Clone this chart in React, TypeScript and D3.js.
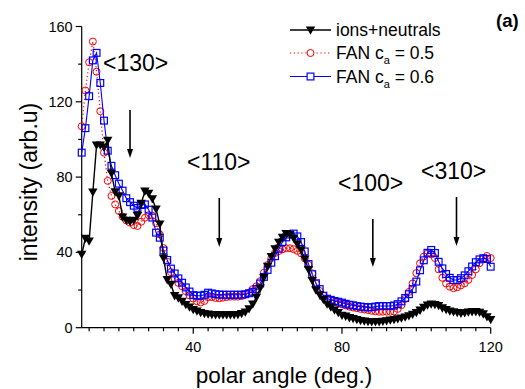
import React from "react";
import * as d3 from "d3";

// Polar angle sampling grid (deg.)
const angles = [
  10, 11, 12, 13, 14, 15, 16, 17, 18, 19, 20, 21, 22, 23, 24, 25, 26, 27, 28, 29,
  30, 31, 32, 33, 34, 35, 36, 37, 38, 39, 40, 41, 42, 43, 44, 45, 46, 47, 48, 49,
  50, 51, 52, 53, 54, 55, 56, 57, 58, 59, 60, 61, 62, 63, 64, 65, 66, 67, 68, 69,
  70, 71, 72, 73, 74, 75, 76, 77, 78, 79, 80, 81, 82, 83, 84, 85, 86, 87, 88, 89,
  90, 91, 92, 93, 94, 95, 96, 97, 98, 99, 100, 101, 102, 103, 104, 105, 106, 107, 108, 109,
  110, 111, 112, 113, 114, 115, 116, 117, 118, 119, 120,
];

// Measured: ions + neutrals
const ionsNeutrals = [
  39, 47.5, 46, 72, 97, 97, 96, 99.5, 82, 72.2, 70, 58.8, 57, 56.4, 57, 59.5, 66, 72.5, 71.4, 68.5,
  63, 55, 37, 25.5, 23, 17, 15.8, 14, 12.3, 11, 9.6, 8.8, 8, 7.5, 7.2, 7, 6.9, 6.8, 6.8, 6.8,
  6.8, 6.9, 7, 7.5, 8.3, 10, 12.6, 16.2, 21, 26.6, 32.6, 37.8, 41.9, 45.4, 48, 50, 49.5, 47.5, 44.4, 41.3,
  36.5, 30.9, 25, 20, 17.5, 15, 12.5, 11, 9.4, 8, 6.6, 6.1, 5.3, 4.8, 4.3, 3.8, 3.5, 3.3, 3.2, 3.2,
  3.2, 3.4, 3.7, 4, 4.3, 4.7, 5.1, 5.6, 6.3, 7.1, 8, 9.3, 10.8, 12, 12.5, 12.3, 11.8, 10.5, 9.6, 8.8,
  8.4, 8, 7.7, 7.9, 8.3, 8.5, 8.5, 8.2, 7.3, 5.8, 4.3,
];

// FAN simulation, c_a = 0.5
const fan05 = [
  107, 126, 141, 152, 136, 115, 93, 78, 70, 65.5, 62, 59, 57, 55.8, 54.5, 54, 56.3, 58.4, 59.8, 59.5,
  55.5, 49.5, 42.3, 35, 29.5, 26, 23.8, 22, 19.4, 17.2, 15.5, 14, 13.4, 14.2, 16.2, 16.3, 15.8, 15.6, 16, 16.3,
  16.5, 16.5, 16.5, 16.8, 17.5, 18.5, 20.5, 22, 24.7, 29.2, 33.3, 37, 39.7, 40.7, 41.6, 42.2, 42.2, 41.7, 40.8, 39.5,
  36.8, 33.4, 28.9, 23.4, 19.5, 17, 15.4, 14.5, 13.6, 13, 12.4, 11.8, 11.2, 10.7, 10.4, 10, 9.7, 9.4, 9, 8.7,
  8.5, 8.5, 8.5, 8.5, 8.6, 10, 12, 15.3, 19, 23.5, 29, 34.2, 37.8, 39.3, 39, 37, 31, 26.5, 23.5, 21.8,
  21, 21.5, 22.5, 23.6, 25.4, 28, 31, 34.3, 36.9, 38.1, 37,
];

// FAN simulation, c_a = 0.6
const fan06 = [
  93, 106, 123, 142, 146, 130, 110, 94, 86, 81, 76.5, 72.8, 68.8, 66.7, 64.8, 63.6, 65.2, 65.5, 62.7, 58.5,
  50.5, 47.8, 41, 36, 31.4, 28.8, 26.2, 23.9, 21.4, 19.2, 17.3, 17, 17, 17.5, 18.6, 18.2, 17.8, 17.6, 17.5, 17.5,
  17.5, 17.5, 17.5, 17.5, 17.8, 18.3, 19.1, 20.5, 23.5, 27, 30.7, 34.5, 38, 42, 45.5, 48, 49.5, 50, 48.5, 45.5,
  40.5, 33.8, 28.4, 23.6, 20.5, 17, 15.4, 14.8, 14.2, 13.8, 13.3, 12.7, 12.2, 11.9, 11.5, 11.2, 11, 10.8, 10.9, 11.2,
  11.5, 11.5, 11.5, 11.5, 11.8, 12.5, 14, 15.8, 17.8, 20.5, 24.5, 30.5, 35.8, 39.8, 41.3, 39.7, 35, 31.5, 28.5, 26.5,
  25.3, 25.3, 26.3, 27.8, 30, 32.5, 34.8, 36.3, 36.9, 36.5, 32.4,
];

const xMajorTicks = [40, 80, 120];
const yMajorTicks = [0, 40, 80, 120, 160];
const yMinorTicks = [20, 60, 100, 140];

// Crystallographic direction labels and their arrow positions
const directions = [
  { label: "<130>", tx: 103, ty: 71, arrowX: 23, arrowTop: 110, arrowBottom: 158 },
  { label: "<110>", tx: 187, ty: 170, arrowX: 47, arrowTop: 198, arrowBottom: 247 },
  { label: "<100>", tx: 338, ty: 191, arrowX: 88.3, arrowTop: 219, arrowBottom: 267 },
  { label: "<310>", tx: 421, ty: 179, arrowX: 110.8, arrowTop: 197, arrowBottom: 246 },
];

const FONT = "'Liberation Sans', Arial, Helvetica, sans-serif";

export default function App() {
  const width = 525;
  const height = 389;
  const x = d3.scaleLinear().domain([10, 120]).range([81.7, 490.7]);
  const y = d3.scaleLinear().domain([0, 160]).range([327.7, 26.5]);

  const xMinorTicks = d3.range(12, 120, 4).filter((v) => !xMajorTicks.includes(v));

  const line = d3
    .line<number>()
    .x((_, i) => x(angles[i]))
    .y((d) => y(d));

  const triPath = (cx: number, cy: number) =>
    `M${cx - 4.7},${cy - 3.6}L${cx + 4.7},${cy - 3.6}L${cx},${cy + 4.7}Z`;

  return (
    <svg
      width={width}
      height={height}
      style={{ position: "absolute", left: 0, top: 0, background: "#fff" }}
      fontFamily={FONT}
    >
      <rect width={width} height={height} fill="#fff" />

      {/* axes */}
      <g stroke="#000" strokeWidth={1.2}>
        <line x1={x(10)} x2={x(10)} y1={y(160)} y2={y(0)} />
        <line x1={x(10)} x2={x(120)} y1={y(0)} y2={y(0)} />
        {xMajorTicks.map((t) => (
          <line key={"xM" + t} x1={x(t)} x2={x(t)} y1={y(0)} y2={y(0) + 6} />
        ))}
        {xMinorTicks.map((t) => (
          <line key={"xm" + t} x1={x(t)} x2={x(t)} y1={y(0)} y2={y(0) + 3.5} />
        ))}
        {yMajorTicks.map((t) => (
          <line key={"yM" + t} x1={x(10) - 6} x2={x(10)} y1={y(t)} y2={y(t)} />
        ))}
        {yMinorTicks.map((t) => (
          <line key={"ym" + t} x1={x(10) - 3.5} x2={x(10)} y1={y(t)} y2={y(t)} />
        ))}
      </g>
      <g fontSize={14.5} fill="#000">
        {xMajorTicks.map((t) => (
          <text key={"xl" + t} x={x(t)} y={352} textAnchor="middle">
            {t}
          </text>
        ))}
        {yMajorTicks.map((t) => (
          <text key={"yl" + t} x={x(10) - 9} y={y(t) + 5} textAnchor="end">
            {t}
          </text>
        ))}
      </g>
      <text x={284} y={383} fontSize={22.5} textAnchor="middle">
        polar angle (deg.)
      </text>
      <text
        transform={`translate(37,182) rotate(-90)`}
        fontSize={23}
        textAnchor="middle"
      >
        intensity (arb.u)
      </text>

      {/* FAN c_a = 0.5 */}
      <path
        d={line(fan05) ?? ""}
        fill="none"
        stroke="#ff0000"
        strokeWidth={1.2}
        strokeDasharray="1.2 2.6"
      />
      {fan05.map((v, i) => (
        <circle
          key={"r" + i}
          cx={x(angles[i])}
          cy={y(v)}
          r={3.5}
          fill="none"
          stroke="#ff0000"
          strokeWidth={1}
        />
      ))}

      {/* FAN c_a = 0.6 */}
      <path d={line(fan06) ?? ""} fill="none" stroke="#0000ff" strokeWidth={1.1} />
      {fan06.map((v, i) => (
        <rect
          key={"b" + i}
          x={x(angles[i]) - 3.4}
          y={y(v) - 3.4}
          width={6.8}
          height={6.8}
          fill="none"
          stroke="#0000ff"
          strokeWidth={1.2}
        />
      ))}

      {/* ions + neutrals */}
      <path d={line(ionsNeutrals) ?? ""} fill="none" stroke="#000" strokeWidth={1.4} />
      {ionsNeutrals.map((v, i) => (
        <path key={"k" + i} d={triPath(x(angles[i]), y(v))} fill="#000" />
      ))}

      {/* direction labels and arrows */}
      {directions.map((d) => (
        <g key={d.label}>
          <text x={d.tx} y={d.ty} fontSize={23}>
            {d.label}
          </text>
          <line
            x1={x(d.arrowX)}
            x2={x(d.arrowX)}
            y1={d.arrowTop}
            y2={d.arrowBottom - 6}
            stroke="#000"
            strokeWidth={1.6}
          />
          <path
            d={`M${x(d.arrowX) - 3},${d.arrowBottom - 9}L${x(d.arrowX) + 3},${d.arrowBottom - 9}L${x(d.arrowX)},${d.arrowBottom}Z`}
            fill="#000"
          />
        </g>
      ))}

      <text x={496} y={27} fontSize={18.5} fontWeight="bold">
        (a)
      </text>

      {/* legend */}
      <g fontSize={17.5}>
        <line x1={290} x2={331} y1={30} y2={30} stroke="#000" strokeWidth={1.4} />
        <path d={triPath(310.5, 30)} fill="#000" />
        <text x={336} y={36}>ions+neutrals</text>

        <line
          x1={290}
          x2={331}
          y1={53}
          y2={53}
          stroke="#ff0000"
          strokeWidth={1.2}
          strokeDasharray="1.2 2.6"
        />
        <circle cx={310.5} cy={53} r={3.5} fill="#fff" stroke="#ff0000" strokeWidth={1} />
        <text x={336} y={59}>
          FAN c<tspan fontSize={11} dy={5}>a</tspan>
          <tspan dy={-5}> = 0.5</tspan>
        </text>

        <line x1={290} x2={331} y1={76.5} y2={76.5} stroke="#0000ff" strokeWidth={1.1} />
        <rect
          x={307.1}
          y={73.1}
          width={6.8}
          height={6.8}
          fill="#fff"
          stroke="#0000ff"
          strokeWidth={1.2}
        />
        <text x={336} y={82.5}>
          FAN c<tspan fontSize={11} dy={5}>a</tspan>
          <tspan dy={-5}> = 0.6</tspan>
        </text>
      </g>
    </svg>
  );
}
